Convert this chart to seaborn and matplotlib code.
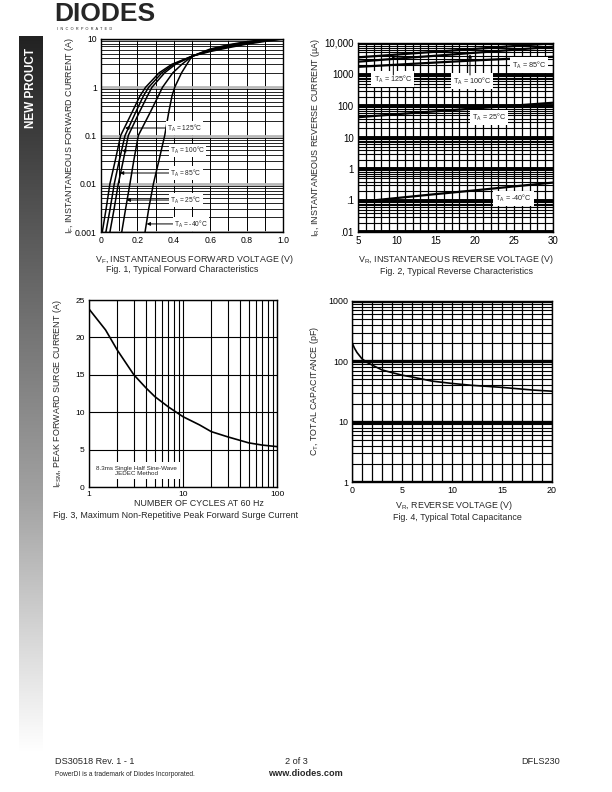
import numpy as np
import pandas as pd
import matplotlib
matplotlib.use("Agg")
import matplotlib.pyplot as plt
from matplotlib.ticker import LogLocator, MultipleLocator, NullFormatter
from matplotlib.colors import LinearSegmentedColormap
import seaborn as sns

# Fig. 1 - typical forward characteristics (VF in V, IF in A)
fwd_temps = ["125", "100", "85", "25", "-40"]
vf_125 = [0.007, 0.028, 0.049, 0.078, 0.108, 0.17, 0.214, 0.245, 0.32, 0.39, 0.50, 0.60, 0.70, 0.80, 0.90, 1.0]
vf_100 = [0.027, 0.05, 0.073, 0.10, 0.132, 0.19, 0.233, 0.262, 0.335, 0.40, 0.50, 0.60, 0.70, 0.80, 0.90, 1.0]
vf_85 = [0.049, 0.072, 0.095, 0.122, 0.150, 0.21, 0.255, 0.28, 0.35, 0.41, 0.50, 0.60, 0.70, 0.80, 0.90, 1.0]
vf_25 = [0.114, 0.135, 0.159, 0.18, 0.205, 0.27, 0.315, 0.338, 0.395, 0.445, 0.50, 0.60, 0.70, 0.80, 0.90, 1.0]
vf_m40 = [0.242, 0.262, 0.288, 0.318, 0.35, 0.372, 0.39, 0.405, 0.443, 0.472, 0.50, 0.60, 0.70, 0.80, 0.90, 1.0]
if_low = [0.001, 0.003, 0.01, 0.03, 0.1, 0.3, 0.66, 1.0, 2.0, 3.0, 4.4]
if_high_125 = [5.5, 6.6, 7.8, 8.9, 10.0]
if_high_100 = [5.7, 6.9, 8.1, 9.2, 10.1]
if_high_85 = [5.8, 7.1, 8.3, 9.4, 10.2]
if_high_25 = [6.0, 7.4, 8.6, 9.6, 10.3]
if_high_m40 = [6.2, 7.6, 8.8, 9.8, 10.4]

# Fig. 2 - typical reverse characteristics (VR in V, IR in uA)
vr_rev = [5, 10, 15, 20, 25, 30]
ir_125 = [3500, 4300, 5300, 6500, 8000, 9800]
ir_100 = [2550, 3200, 3950, 4900, 6100, 7600]
ir_85 = [1750, 2050, 2400, 2800, 3200, 3650]
ir_25 = [44, 55, 68, 84, 103, 127]
ir_m40 = [0.09, 0.12, 0.16, 0.21, 0.28, 0.37]

# Fig. 3 - surge current vs number of cycles
cycles = [1, 1.5, 2, 3, 4, 5, 7, 10, 15, 20, 30, 50, 70, 100]
ifsm = [23.8, 21.0, 18.3, 15.0, 13.3, 12.1, 10.7, 9.4, 8.3, 7.4, 6.7, 5.9, 5.6, 5.4]

# Fig. 4 - total capacitance vs reverse voltage
vr_cap = [0, 0.25, 0.5, 1, 1.5, 2, 3, 4, 5, 6, 8, 10, 12, 15, 18, 20]
ct = [205, 165, 140, 110, 96, 87, 72, 65, 59, 55, 47, 43, 40, 37, 33.5, 32]

sns.set_style("white")
plt.rcParams["font.family"] = ["Liberation Sans", "DejaVu Sans"]
plt.rcParams["mathtext.fontset"] = "custom"
plt.rcParams["mathtext.rm"] = "Liberation Sans"

W, H = 612, 792
fig = plt.figure(figsize=(W / 100, H / 100), dpi=100)


def box(l, t, r, b):
    return [l / W, 1 - b / H, (r - l) / W, (b - t) / H]


def fx(x):
    return x / W


def fy(y):
    return 1 - y / H


def style(ax, size):
    ax.tick_params(which="both", length=0, labelsize=size, pad=3, colors="black")
    for s in ax.spines.values():
        s.set_color("black")
        s.set_linewidth(1.0)
    ax.set_axisbelow(True)


LBL = 6.4
black5 = ["black"] * 5

# side bar
axs = fig.add_axes(box(19, 36, 43, 752))
cmap = LinearSegmentedColormap.from_list(
    "bar", [(0, "#222222"), (0.35, "#686868"), (0.65, "#a3a3a3"), (0.86, "#dcdcdc"), (1, "#ffffff")])
axs.imshow(np.linspace(0, 1, 256).reshape(-1, 1), aspect="auto", cmap=cmap)
axs.axis("off")
fig.text(fx(31), fy(88), "NEW PROUCT", rotation=90, color="white", weight="bold",
         fontsize=8.5, ha="center", va="center")

# logo
fig.text(fx(54), fy(14), "DIODES", fontsize=19, weight="heavy", ha="left", va="center")
fig.text(fx(57), fy(29), "I  N  C  O  R  P  O  R  A  T  E  D", fontsize=2.8, ha="left", va="center")

# ---------- Fig. 1
fwd = pd.DataFrame({
    "vf": vf_125 + vf_100 + vf_85 + vf_25 + vf_m40,
    "if": (if_low + if_high_125) + (if_low + if_high_100) + (if_low + if_high_85)
          + (if_low + if_high_25) + (if_low + if_high_m40),
    "temp": sum([[t] * 16 for t in fwd_temps], []),
})
ax1 = fig.add_axes(box(101, 39, 283, 232))
sns.lineplot(data=fwd, x="vf", y="if", hue="temp", palette=black5, estimator=None,
             sort=False, legend=False, lw=1.1, ax=ax1)
ax1.set_yscale("log")
ax1.set_xlim(0, 1)
ax1.set_ylim(0.001, 10)
ax1.set_xticks([0, 0.2, 0.4, 0.6, 0.8, 1.0], labels=["0", "0.2", "0.4", "0.6", "0.8", "1.0"])
ax1.xaxis.set_minor_locator(MultipleLocator(0.1))
ax1.set_yticks([0.001, 0.01, 0.1, 1, 10], labels=["0.001", "0.01", "0.1", "1", "10"])
ax1.yaxis.set_minor_locator(LogLocator(subs=np.arange(2, 10)))
ax1.yaxis.set_minor_formatter(NullFormatter())
ax1.grid(which="major", axis="y", color="#b8b8b8", lw=2.0)
ax1.grid(which="minor", axis="y", color="black", lw=0.6)
ax1.grid(which="both", axis="x", color="black", lw=0.7)
style(ax1, 6.2)
ax1.set_xlabel("")
ax1.set_ylabel(r"$\mathregular{I_F}$, INSTANTANEOUS FORWARD CURRENT (A)", fontsize=LBL)
ax1.yaxis.set_label_coords(-0.137, 0.5)
fig.text(fx(194), fy(259), r"$\mathregular{V_F}$, INSTANTANEOUS FORWARD VOLTAGE (V)", fontsize=LBL, ha="center", va="center")
fig.text(fx(182), fy(270), "Fig. 1, Typical Forward Characteristics", fontsize=LBL, ha="center", va="center")

arrow = dict(arrowstyle="-|>", color="black", lw=0.7, mutation_scale=5, shrinkA=0, shrinkB=0)
tbox = dict(boxstyle="square,pad=0.15", fc="white", ec="none")
fwd_tips = [(0.132, 0.143), (0.115, 0.0484), (0.104, 0.0167), (0.141, 0.0046), (0.251, 0.00147)]
fwd_text = [(0.36, 0.143), (0.38, 0.0484), (0.38, 0.0167), (0.38, 0.0046), (0.40, 0.00147)]
for t, tip, pos in zip(fwd_temps, fwd_tips, fwd_text):
    ax1.annotate(r"$\mathregular{T_A}$ = " + t + "°C", xy=tip, xytext=pos, fontsize=4.8,
                 ha="left", va="center", bbox=tbox, arrowprops=arrow)

# ---------- Fig. 2
rev = pd.DataFrame({
    "vr": vr_rev * 5,
    "ir": ir_125 + ir_100 + ir_85 + ir_25 + ir_m40,
    "temp": sum([[t] * 6 for t in fwd_temps], []),
})
ax2 = fig.add_axes(box(358, 43, 553, 232))
sns.lineplot(data=rev, x="vr", y="ir", hue="temp", palette=black5, estimator=None,
             sort=False, legend=False, lw=1.6, ax=ax2)
ax2.set_yscale("log")
ax2.set_xlim(5, 30)
ax2.set_ylim(0.01, 10000)
ax2.set_xticks([5, 10, 15, 20, 25, 30])
ax2.xaxis.set_minor_locator(MultipleLocator(1))
ax2.set_yticks([0.01, 0.1, 1, 10, 100, 1000, 10000],
               labels=[".01", ".1", "1", "10", "100", "1000", "10,000"])
ax2.yaxis.set_minor_locator(LogLocator(subs=np.arange(2, 10)))
ax2.yaxis.set_minor_formatter(NullFormatter())
ax2.grid(which="major", axis="y", color="black", lw=2.8)
ax2.grid(which="minor", axis="y", color="black", lw=0.8)
ax2.grid(which="both", axis="x", color="black", lw=0.9)
style(ax2, 7)
ax2.set_xlabel("")
ax2.set_ylabel(r"$\mathregular{I_R}$, INSTANTANEOUS REVERSE CURRENT (µA)", fontsize=LBL)
ax2.yaxis.set_label_coords(-0.184, 0.5)
fig.text(fx(456), fy(259), r"$\mathregular{V_R}$, INSTANTANEOUS REVERSE VOLTAGE (V)", fontsize=LBL, ha="center", va="center")
fig.text(fx(456), fy(271), "Fig. 2, Typical Reverse Characteristics", fontsize=LBL, ha="center", va="center")

rev_text = [(9.45, 720), (19.6, 622), (26.9, 2005), (21.8, 43.7), (24.9, 0.117)]
for t, pos in zip(fwd_temps, rev_text):
    ax2.text(pos[0], pos[1], r"$\mathregular{T_A}$ = " + t + "°C", fontsize=5.2,
             ha="center", va="center", bbox=dict(boxstyle="square,pad=0.3", fc="white", ec="none"))
ax2.annotate("", xy=(9.53, 4160), xytext=(9.53, 964), arrowprops=arrow)
ax2.annotate("", xy=(19.36, 4375), xytext=(19.36, 964), arrowprops=arrow)

# ---------- Fig. 3
surge = pd.DataFrame({"cycles": cycles, "ifsm": ifsm})
ax3 = fig.add_axes(box(89, 300, 277, 487))
sns.lineplot(data=surge, x="cycles", y="ifsm", color="black", lw=1.2, estimator=None, ax=ax3)
ax3.set_xscale("log")
ax3.set_xlim(1, 100)
ax3.set_ylim(0, 25)
ax3.set_xticks([1, 10, 100], labels=["1", "10", "100"])
ax3.xaxis.set_minor_locator(LogLocator(subs=np.arange(2, 10)))
ax3.xaxis.set_minor_formatter(NullFormatter())
ax3.yaxis.set_major_locator(MultipleLocator(5))
ax3.grid(which="both", color="black", lw=0.8)
style(ax3, 6)
ax3.set_xlabel("")
ax3.set_ylabel(r"$\mathregular{I_{FSM}}$, PEAK FORWARD SURGE CURRENT (A)", fontsize=LBL)
ax3.yaxis.set_label_coords(-0.135, 0.5)
ax3.text(0.254, 0.087, "8.3ms Single Half Sine-Wave\nJEDEC Method", transform=ax3.transAxes,
         fontsize=4.5, ha="center", va="center", linespacing=1.1,
         bbox=dict(boxstyle="square,pad=0.5", fc="white", ec="none"))
fig.text(fx(199), fy(504), "NUMBER OF CYCLES AT 60 Hz", fontsize=LBL, ha="center", va="center")
fig.text(fx(176), fy(515), "Fig. 3, Maximum Non-Repetitive Peak Forward Surge Current", fontsize=LBL, ha="center", va="center")

# ---------- Fig. 4
cap = pd.DataFrame({"vr": vr_cap, "ct": ct})
ax4 = fig.add_axes(box(352, 301, 552, 482))
sns.lineplot(data=cap, x="vr", y="ct", color="black", lw=1.2, estimator=None, ax=ax4)
ax4.set_yscale("log")
ax4.set_xlim(0, 20)
ax4.set_ylim(1, 1000)
ax4.set_xticks([0, 5, 10, 15, 20])
ax4.xaxis.set_minor_locator(MultipleLocator(1))
ax4.set_yticks([1, 10, 100, 1000], labels=["1", "10", "100", "1000"])
ax4.yaxis.set_minor_locator(LogLocator(subs=np.arange(2, 10)))
ax4.yaxis.set_minor_formatter(NullFormatter())
ax4.grid(which="major", axis="y", color="black", lw=2.4)
ax4.grid(which="minor", axis="y", color="black", lw=0.8)
ax4.grid(which="both", axis="x", color="black", lw=0.9)
style(ax4, 6.4)
ax4.set_xlabel("")
ax4.set_ylabel(r"$\mathregular{C_T}$, TOTAL CAPACITANCE (pF)", fontsize=LBL)
ax4.yaxis.set_label_coords(-0.155, 0.5)
fig.text(fx(454), fy(506), r"$\mathregular{V_R}$, REVERSE VOLTAGE (V)", fontsize=LBL, ha="center", va="center")
fig.text(fx(457), fy(517), "Fig. 4, Typical Total Capacitance", fontsize=LBL, ha="center", va="center")

# footer
fig.text(fx(55), fy(761), "DS30518 Rev. 1 - 1", fontsize=6.6, ha="left", va="center")
fig.text(fx(296), fy(761), "2 of 3", fontsize=6.6, ha="center", va="center")
fig.text(fx(560), fy(761), "DFLS230", fontsize=6.6, ha="right", va="center")
fig.text(fx(55), fy(774), "PowerDI is a trademark of Diodes Incorporated.", fontsize=4.8, ha="left", va="center")
fig.text(fx(305), fy(774), "www.diodes.com", fontsize=6.6, weight="bold", ha="center", va="center")

fig.savefig("out.png", dpi=100)
